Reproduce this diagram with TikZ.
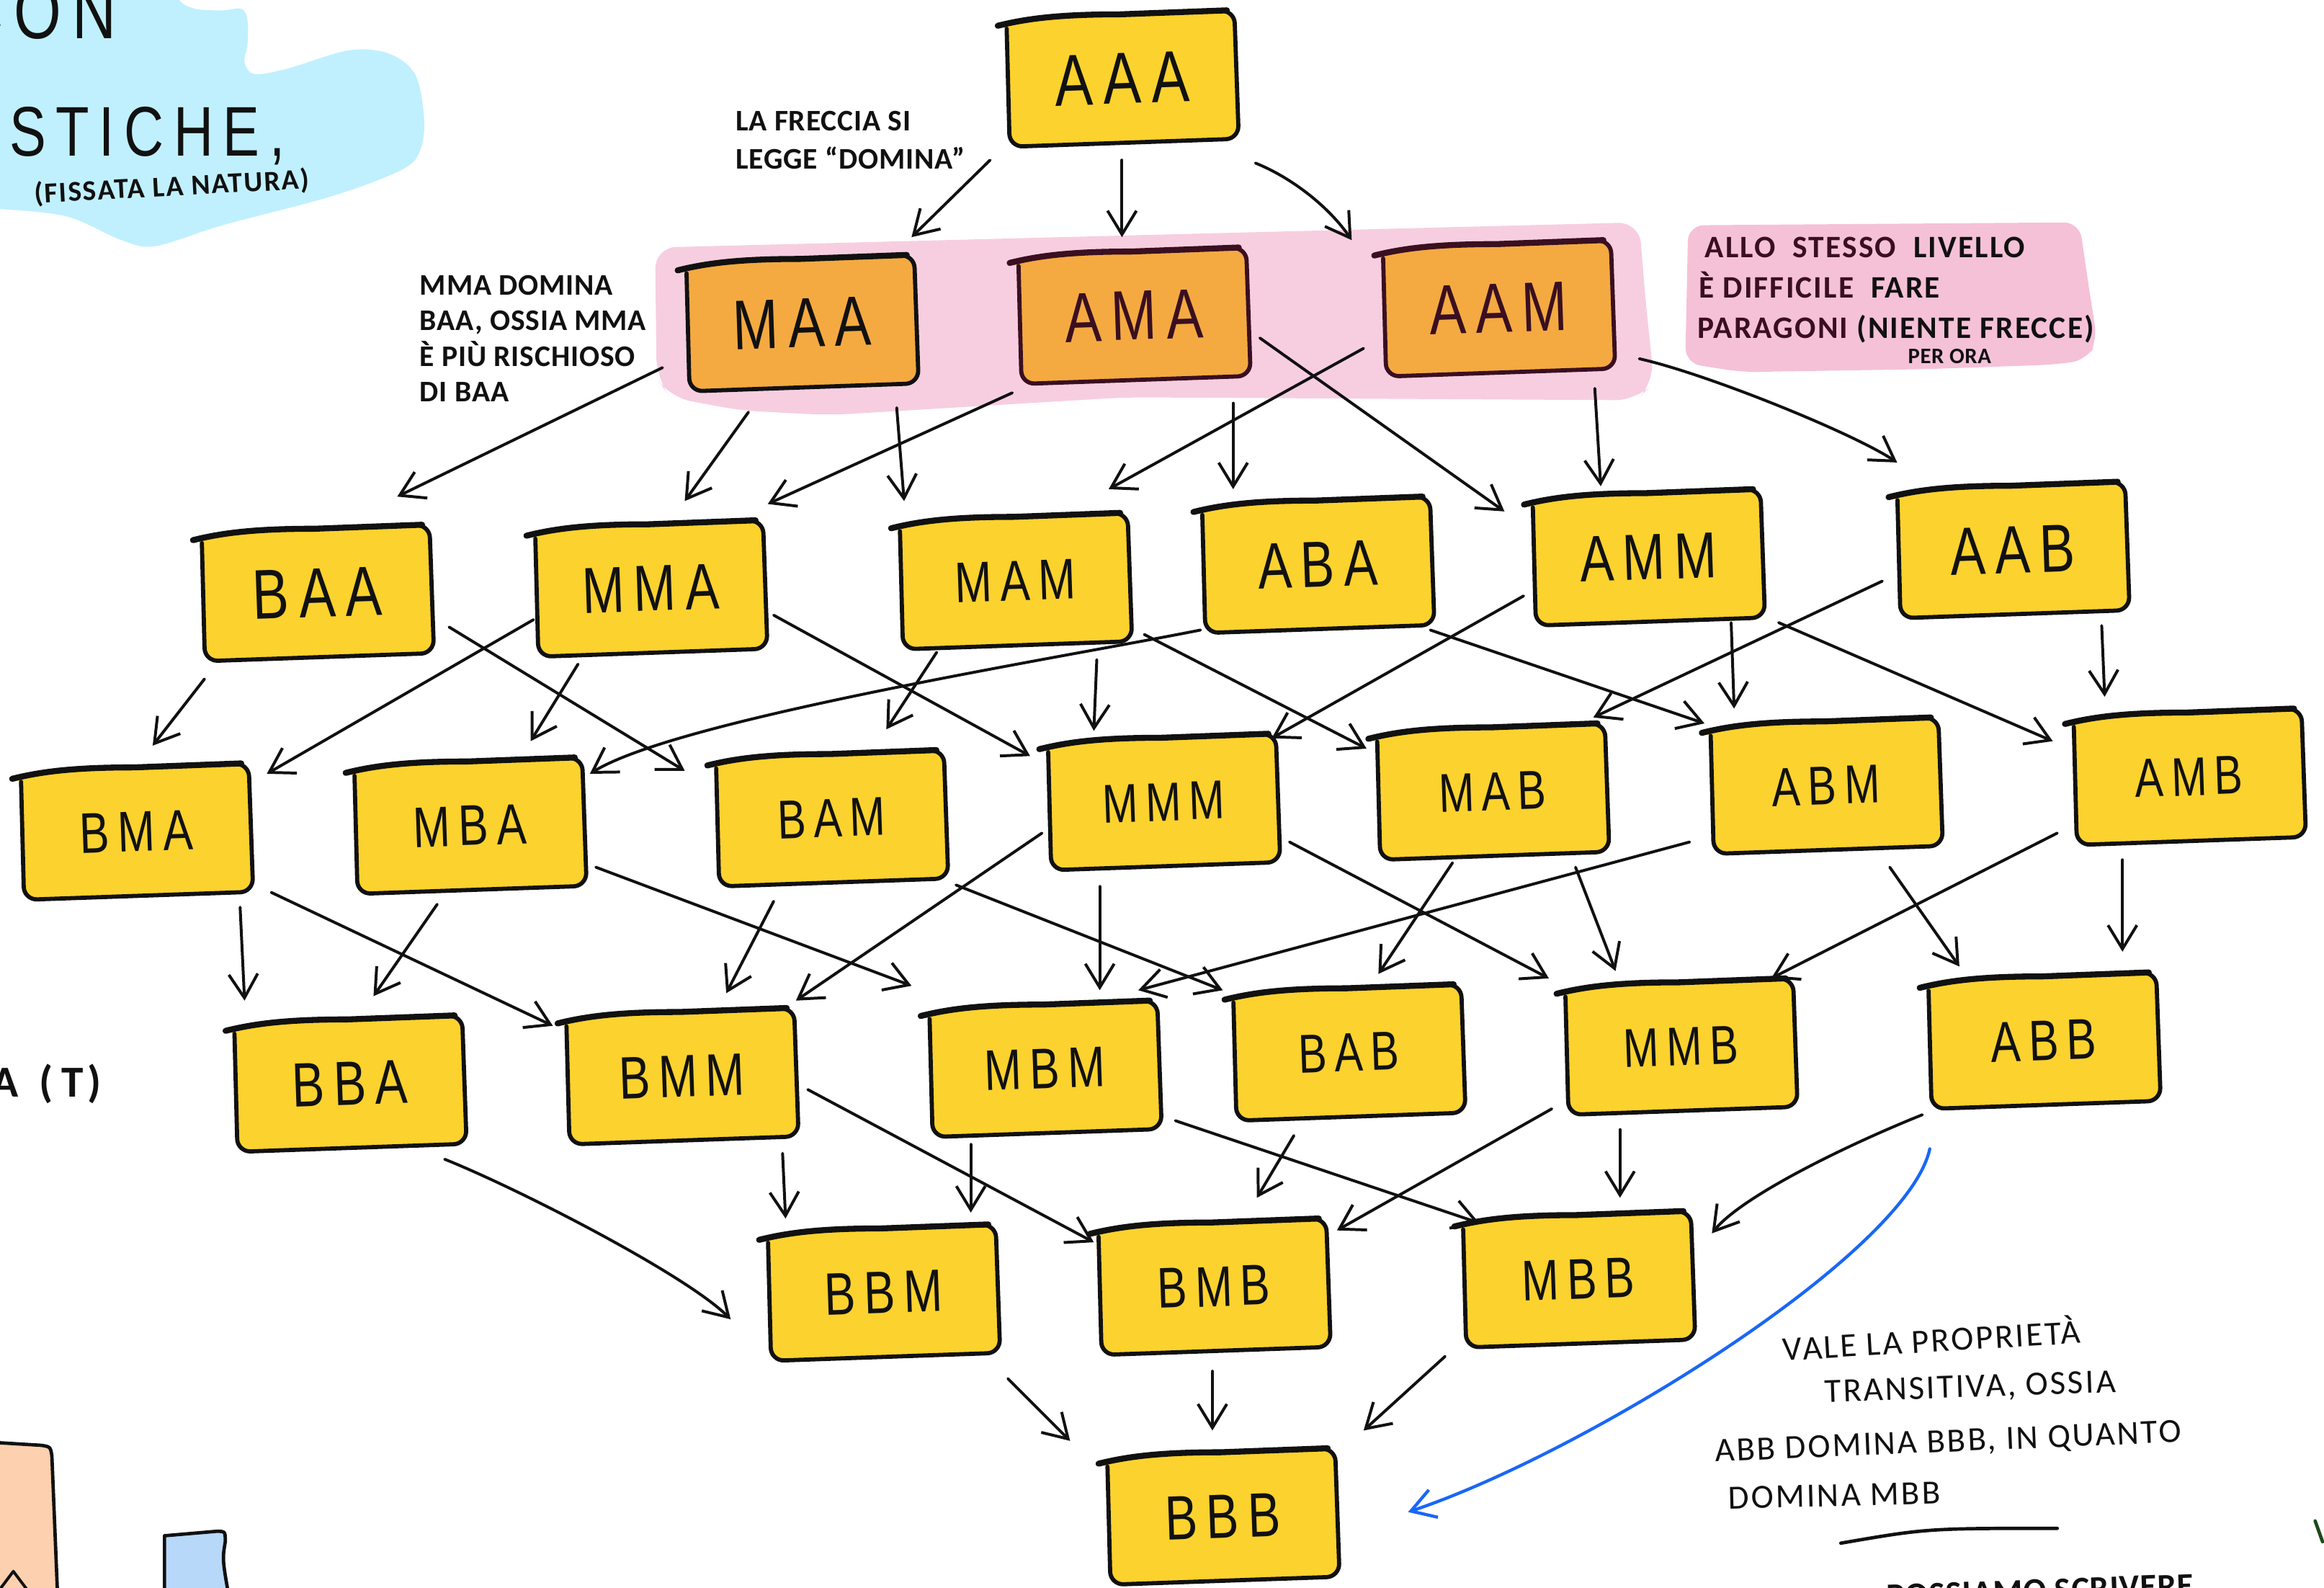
\documentclass[tikz,border=0pt]{standalone}
\usepackage{fontspec}
\setmainfont{Liberation Sans}
\newfontfamily\lblfont[FakeStretch=0.78,LetterSpace=14]{Liberation Sans}
\newfontfamily\notefont[LetterSpace=2]{Carlito}
\usetikzlibrary{arrows.meta,calc}
\pgfdeclarelayer{back}
\pgfdeclarelayer{bg}
\pgfsetlayers{back,bg,main}
\definecolor{boxy}{HTML}{FCD22F}
\definecolor{boxo}{HTML}{F4AA41}
\definecolor{bandpink}{HTML}{F7CEE0}
\definecolor{notepink}{HTML}{F5C1D6}
\definecolor{blobblue}{HTML}{C0F0FE}
\definecolor{arrowblue}{HTML}{1A66F5}
\definecolor{peach}{HTML}{FDD0B0}
\definecolor{paleblue}{HTML}{B8D8FA}
\definecolor{maroon}{HTML}{3A0F1F}
\definecolor{ink}{HTML}{111111}
\definecolor{darkgreen}{HTML}{1D4A1D}
\tikzset{
  bx/.style={rectangle, minimum width=3.08cm, minimum height=1.72cm, inner sep=0pt, rotate=2, text=ink},
  fs/.style={font=\lblfont\fontsize{#1}{#1}\selectfont},
  arrline/.style={draw=ink, line width=1.1pt, line cap=round, line join=round, -{Straight Barb[length=3.2mm,width=3.9mm]}},
  bluearr/.style={draw=arrowblue, line width=1.2pt, line cap=round, line join=round, -{Straight Barb[length=3.2mm,width=3.9mm]}},
  note/.style={anchor=base west, inner sep=0pt, text=ink, font=\notefont\bfseries\fontsize{11.5}{12}\selectfont},
  hand/.style={anchor=base west, inner sep=0pt, text=ink, font=\notefont\fontsize{13}{13}\selectfont\addfontfeature{LetterSpace=6}},
  pnote/.style={anchor=base west, inner sep=0pt, text=ink, font=\notefont\bfseries\fontsize{12}{12}\selectfont\addfontfeature{LetterSpace=5}},
}
\newcommand{\sketchbox}[3]{%
  \begin{pgfonlayer}{bg}
  \filldraw[fill=#2, draw=#3, line width=1.6pt, rounded corners=5pt, line join=round, line cap=round]
    ([shift={(1,7)}]#1.north west) -- (#1.south west) -- (#1.south east) -- (#1.north east) -- (#1.north)
    .. controls ([shift={(-40,0)}]#1.north) and ([shift={(15,0)}]#1.north west) .. ([shift={(-5,5)}]#1.north west);
  \draw[#3, line width=2.3pt, line cap=round]
    ([shift={(-5,0)}]#1.north east) -- (#1.north)
    .. controls ([shift={(-40,0)}]#1.north) and ([shift={(15,0)}]#1.north west) .. ([shift={(-5,5)}]#1.north west);
  \end{pgfonlayer}}
\newcommand{\arr}[4]{\draw[arrline] ([shift={(#2)}]#1.center) -- ([shift={(#4)}]#3.center);}
\newcommand{\carr}[6]{\draw[arrline] ([shift={(#2)}]#1.center) .. controls +(#5) and +(#6) .. ([shift={(#4)}]#3.center);}
\begin{document}
\begin{tikzpicture}[x=0.02cm,y=-0.02cm]
\useasboundingbox (0,0) rectangle (1568,1071);

% ---------- background shapes ----------
\begin{pgfonlayer}{back}
\fill[blobblue] plot[smooth cycle, tension=0.55] coordinates {(-15,-15) (118,-15) (121,0) (132,6) (150,7) (163,6) (167,14) (167,30) (165,42) (172,50) (195,46) (235,34) (262,36) (280,50) (286,78) (284,100) (272,114) (225,132) (150,152) (105,166) (82,162) (45,146) (0,141) (-15,141)};
\fill[bandpink, rounded corners=8pt] (442,167) -- (1106,150) -- (1110,200) -- (1116,258) -- (1104,270) -- (760,268) -- (560,280) -- (500,277) -- (452,268) -- (443,255) -- cycle;
\fill[notepink, rounded corners=6pt] (1139,152) -- (1403,150) -- (1408,185) -- (1415,230) -- (1408,243) -- (1385,246) -- (1300,249) -- (1175,251) -- (1137,245) -- cycle;
\end{pgfonlayer}

% ---------- boxes ----------
\node[bx, fs=28] (AAA) at (757,53) {AAA};
\node[bx, fs=27] (MAA) at (541,218) {MAA};
\node[bx, fs=27, text=maroon] (AMA) at (765,213) {AMA};
\node[bx, fs=27, text=maroon] (AAM) at (1011,208) {AAM};
\node[bx, fs=27] (BAA) at (214,400) {BAA};
\node[bx, fs=25] (MMA) at (439,397) {MMA};
\node[bx, fs=22] (MAM) at (685,392) {MAM};
\node[bx, fs=25] (ABA) at (889,381) {ABA};
\node[bx, fs=25] (AMM) at (1112,376) {AMM};
\node[bx, fs=26] (AAB) at (1358,371) {AAB};
\node[bx, fs=22] (BMA) at (92,561) {BMA};
\node[bx, fs=22] (MBA) at (317,557) {MBA};
\node[bx, fs=21] (BAM) at (561,552) {BAM};
\node[bx, fs=21] (MMM) at (785,541) {MMM};
\node[bx, fs=21] (MAB) at (1007,534) {MAB};
\node[bx, fs=21] (ABM) at (1232,530) {ABM};
\node[bx, fs=21] (AMB) at (1477,524) {AMB};
\node[bx, fs=24] (BBA) at (236,731) {BBA};
\node[bx, fs=23] (BMM) at (460,726) {BMM};
\node[bx, fs=22] (MBM) at (705,721) {MBM};
\node[bx, fs=21] (BAB) at (910,710) {BAB};
\node[bx, fs=21] (MMB) at (1134,706) {MMB};
\node[bx, fs=22] (ABB) at (1379,702) {ABB};
\node[bx, fs=23] (BBM) at (596,872) {BBM};
\node[bx, fs=22] (BMB) at (819,868) {BMB};
\node[bx, fs=22] (MBB) at (1065,863) {MBB};
\node[bx, fs=24] (BBB) at (825,1023) {BBB};

\foreach \n in {AAA,BAA,MMA,MAM,ABA,AMM,AAB,BMA,MBA,BAM,MMM,MAB,ABM,AMB,BBA,BMM,MBM,BAB,MMB,ABB,BBM,BMB,MBB,BBB}{\sketchbox{\n}{boxy}{ink}}
\sketchbox{MAA}{boxo}{ink}
\sketchbox{AMA}{boxo}{maroon}
\sketchbox{AAM}{boxo}{maroon}

% ---------- arrows ----------
\arr{AAA}{-89,55}{MAA}{74,-58}
\arr{AAA}{0,55}{AMA}{-8,-53}
\carr{AAA}{90,57}{AAM}{-99,-46}{25,10}{-15,-22}
\arr{MAA}{-94,30}{BAA}{54,-65}
\arr{MAA}{-36,60}{MMA}{23,-59}
\arr{MAA}{64,57}{MAM}{-75,-54}
\arr{AMA}{-82,52}{MMA}{79,-57}
\arr{AMA}{67,59}{ABA}{-57,-51}
\arr{AMA}{85,15}{AMM}{-97,-31}
\arr{AAM}{-91,27}{MAM}{63,-62}
\arr{AAM}{65,54}{AMM}{-32,-48}
\carr{AAM}{95,34}{AAB}{-78,-59}{45,10}{-30,-20}
\arr{BAA}{-76,58}{BMA}{11,-58}
\arr{BAA}{89,23}{BAM}{-99,-32}
\arr{MMA}{-79,21}{BMA}{88,-39}
\arr{MMA}{-49,51}{MBA}{41,-57}
\arr{MMA}{83,18}{MMM}{-90,-31}
\arr{MAM}{-53,48}{BAM}{37,-60}
\arr{MAM}{55,53}{MMM}{-47,-48}
\arr{MAM}{87,36}{MAB}{-85,-29}
\carr{ABA}{-79,44}{MBA}{81,-35}{-90,18}{59,-37}
\arr{ABA}{76,44}{ABM}{-82,-42}
\arr{AMM}{-84,26}{MMM}{73,-43}
\arr{AMM}{56,44}{ABM}{-62,-52}
\arr{AMM}{88,44}{AMB}{-92,-24}
\arr{AAB}{-88,21}{MAB}{68,-50}
\arr{AAB}{60,51}{AMB}{-57,-54}
\arr{BMA}{70,51}{BBA}{-71,-56}
\arr{BMA}{91,41}{BMM}{-87,-34}
\arr{MBA}{-22,53}{BBA}{16,-59}
\arr{MBA}{85,28}{MBM}{-90,-56}
\arr{BAM}{-39,56}{BMM}{30,-56}
\arr{BAM}{84,45}{BAB}{-85,-42}
\arr{MMM}{-82,21}{BMM}{77,-51}
\arr{MMM}{-43,57}{MBM}{37,-53}
\arr{MMM}{85,27}{MMB}{-89,-46}
\arr{MAB}{-27,48}{BAB}{20,-53}
\arr{MAB}{56,51}{MMB}{-44,-51}
\arr{ABM}{-92,38}{MBM}{63,-53}
\arr{ABM}{43,55}{ABB}{-57,-50}
\arr{AMB}{-89,38}{MMB}{61,-46}
\arr{AMB}{-45,56}{ABB}{53,-60}
\carr{BBA}{64,51}{BBM}{-103,18}{50,20}{-30,-30}
\arr{BMM}{68,52}{BBM}{-66,-50}
\arr{BMM}{85,9}{BMB}{-81,-30}
\arr{MBM}{-50,51}{BBM}{59,-54}
\arr{MBM}{88,35}{MBB}{-67,-38}
\arr{BAB}{-37,56}{BMB}{29,-60}
\arr{MMB}{-87,42}{BMB}{83,-38}
\arr{MMB}{-41,56}{MBB}{28,-55}
\carr{ABB}{-82,50}{MBB}{90,-31}{-50,20}{20,-25}
\arr{BBM}{84,58}{BBB}{-103,-51}
\arr{BMB}{-1,57}{BBB}{-7,-58}
\arr{MBB}{-90,52}{BBB}{95,-58}
\draw[bluearr] ([shift={(-77,73)}]ABB.center) .. controls +(-15,70) and +(120,-40) .. ([shift={(125,-3)}]BBB.center);

% ---------- texts ----------
\node[anchor=base west, inner sep=0pt, text=ink, font=\lblfont\fontsize{30}{30}\selectfont] (tcon) at (-28,26) {CON};
\node[anchor=base west, inner sep=0pt, text=ink, font=\lblfont\fontsize{27}{27}\selectfont] (tstiche) at (6,105) {STICHE,};
\node[note, rotate=3, font=\notefont\bfseries\fontsize{11}{12}\selectfont\addfontfeature{LetterSpace=5}] (tfiss) at (23,137) {(FISSATA LA NATURA)};
\node[anchor=base west, inner sep=0pt, text=ink, font=\notefont\bfseries\fontsize{17}{17}\selectfont] (tat) at (-6,740) {A\kern8pt(\kern3.4pt T\kern1.5pt)};

\node[note] (tfr1) at (496,88) {LA FRECCIA SI};
\node[note] (tfr2) at (496,114) {LEGGE “DOMINA”};

\node[note] (tmm1) at (283,199) {MMA DOMINA};
\node[note] (tmm2) at (283,223) {BAA, OSSIA MMA};
\node[note] (tmm3) at (283,247) {È PIÙ RISCHIOSO};
\node[note] (tmm4) at (283,271) {DI BAA};

\node[pnote] (tal1) at (1150,174) {{\color{maroon}ALLO\ \ STESSO}\ \ LIVELLO};
\node[pnote] (tal2) at (1146,201) {{\color{maroon}È DIFFICILE}\ \ FARE};
\node[pnote] (tal3) at (1145,228) {{\color{maroon}PARAGONI} (NIENTE FRECCE)};
\node[note, font=\notefont\bfseries\fontsize{8.5}{9}\selectfont] (tal4) at (1287,245) {PER ORA};

\node[hand, rotate=3.4] (tv1) at (1203,918) {VALE LA PROPRIETÀ};
\node[hand, rotate=2] (tv2) at (1231,946) {TRANSITIVA, OSSIA};
\node[hand, rotate=2.4] (tv3) at (1157,986) {ABB DOMINA BBB, IN QUANTO};
\node[hand, rotate=1.5] (tv4) at (1166,1018) {DOMINA MBB};
\draw[ink, line width=1.3pt, line cap=round] (1242,1041) .. controls (1300,1031) .. (1388,1031);
\node[pnote, font=\notefont\bfseries\fontsize{13}{13}\selectfont, rotate=2] (tcut) at (1273,1084) {POSSIAMO SCRIVERE};

% ---------- bottom-left fragments ----------
\fill[peach] (-5,973) -- (28,975) .. controls (34,976) .. (35,982) -- (39,1080) -- (-5,1080) -- cycle;
\draw[ink, line width=1.3pt, line cap=round, line join=round] (-5,973) -- (28,975) .. controls (34,976) .. (35,982) -- (39,1080);
\draw[ink, line width=1.1pt, line cap=round, line join=round] (0,1072) -- (9,1060) -- (18,1072);
\filldraw[fill=paleblue, draw=ink, line width=1.3pt, line join=round] (111,1080) -- (111,1036) -- (146,1033) .. controls (152,1033) .. (152,1040) .. controls (150,1052) .. (155,1080);
\draw[darkgreen, line width=1.3pt, line cap=round] (1562,1026) -- (1567,1040);
\end{tikzpicture}
\end{document}
